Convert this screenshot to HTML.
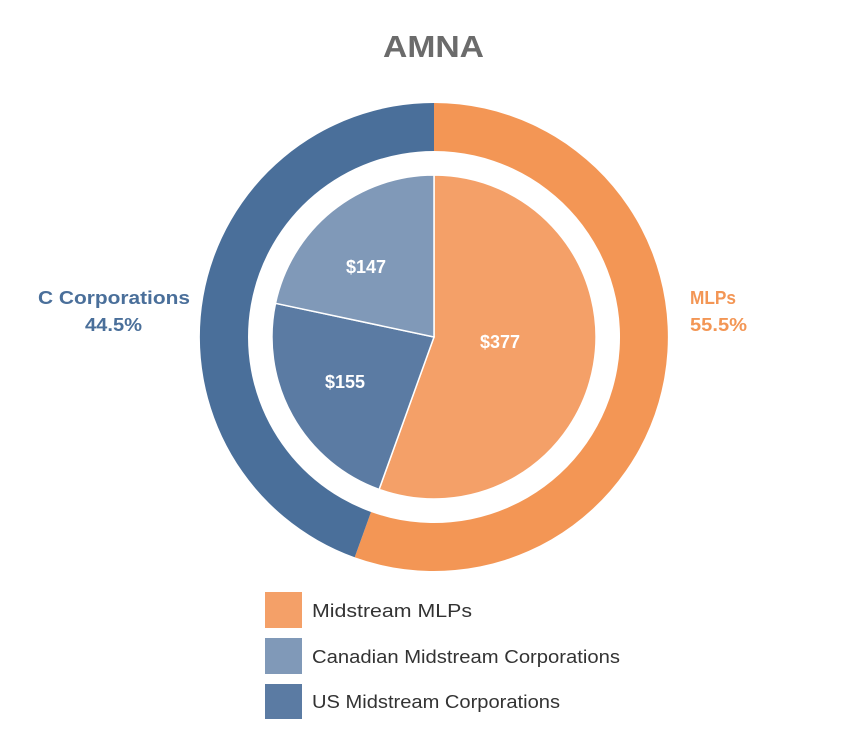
<!DOCTYPE html>
<html><head><meta charset="utf-8"><style>
body{margin:0;background:#fff;}
</style></head><body>
<svg width="847" height="738" viewBox="0 0 847 738" xmlns="http://www.w3.org/2000/svg" font-family="Liberation Sans, sans-serif">
<rect width="847" height="738" fill="#fff"/>
<text x="383" y="57" font-size="31" font-weight="bold" fill="#6b6b6b" textLength="101" lengthAdjust="spacingAndGlyphs">AMNA</text>
<path d="M434,103 A234,234 0 1,1 354.7,557.2 L371,512 A186,186 0 1,0 434,151 Z" fill="#F39655"/>
<path d="M354.7,557.2 A234,234 0 0,1 434,103 L434,151 A186,186 0 0,0 371,512 Z" fill="#4A6F9A"/>
<path d="M434,337 L434,175 A162,162 0 1,1 379.1,489.4 Z" fill="#F4A068" stroke="#fff" stroke-width="1.5"/>
<path d="M434,337 L379.1,489.4 A162,162 0 0,1 275.5,303.3 Z" fill="#5B7BA3" stroke="#fff" stroke-width="1.5"/>
<path d="M434,337 L275.5,303.3 A162,162 0 0,1 434,175 Z" fill="#8099B8" stroke="#fff" stroke-width="1.5"/>
<g font-size="18" font-weight="bold" fill="#fff" text-anchor="middle">
<text x="500" y="348">$377</text>
<text x="345" y="388">$155</text>
<text x="366" y="273">$147</text>
</g>
<g font-size="18" font-weight="bold">
<text x="38" y="304" fill="#4A6F9A" textLength="152" lengthAdjust="spacingAndGlyphs">C Corporations</text>
<text x="85" y="331" fill="#4A6F9A" textLength="57" lengthAdjust="spacingAndGlyphs">44.5%</text>
<text x="690" y="304" fill="#F39655" textLength="46" lengthAdjust="spacingAndGlyphs">MLPs</text>
<text x="690" y="331" fill="#F39655" textLength="57" lengthAdjust="spacingAndGlyphs">55.5%</text>
</g>
<rect x="265" y="592" width="37" height="36" fill="#F4A068"/>
<rect x="265" y="638" width="37" height="36" fill="#8099B8"/>
<rect x="265" y="684" width="37" height="35" fill="#5B7BA3"/>
<g font-size="18" fill="#333">
<text x="312" y="617" textLength="160" lengthAdjust="spacingAndGlyphs">Midstream MLPs</text>
<text x="312" y="663" textLength="308" lengthAdjust="spacingAndGlyphs">Canadian Midstream Corporations</text>
<text x="312" y="708" textLength="248" lengthAdjust="spacingAndGlyphs">US Midstream Corporations</text>
</g>
</svg>
</body></html>
